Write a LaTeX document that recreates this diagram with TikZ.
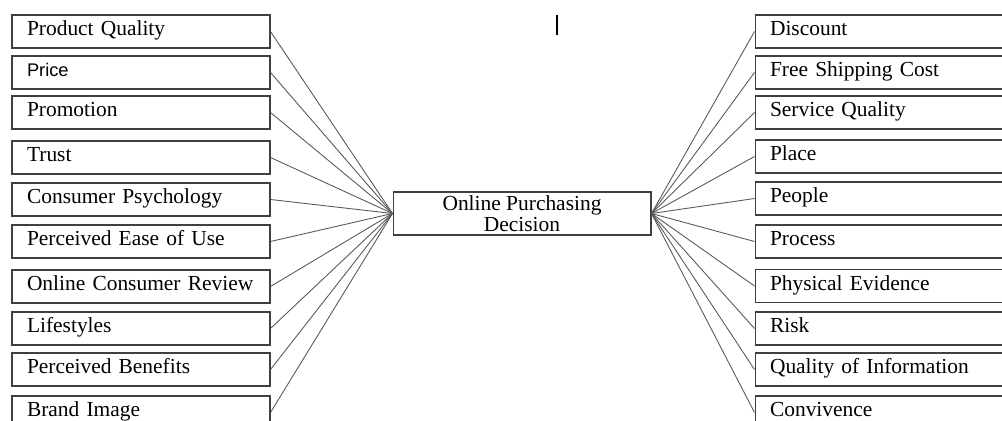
\documentclass[tikz,border=0pt]{standalone}
\usepackage{fontspec}
\setmainfont{Liberation Serif}
\newfontfamily\pricefont{Liberation Sans}
\usepackage{tikz}

\tikzset{
  factor/.style={draw=black!75, line width=0.6pt, minimum height=0.66cm,
    text width=4.56cm, text height=0.3cm, text depth=0.12cm,
    inner xsep=0.3cm, inner ysep=0pt, align=left,
    font=\fontsize{12.2}{14}\selectfont},
  decision/.style={draw=black!75, line width=0.6pt, minimum width=5.16cm,
    minimum height=0.86cm, inner sep=0pt, align=center,
    font=\fontsize{12.2}{10.2}\selectfont},
  link/.style={draw=black!65, line width=0.5pt}
}

\begin{document}
\begin{tikzpicture}[x=0.02cm, y=-0.02cm]
			%%%%% FRAME %%%%%
			\clip (0, 0) rectangle (1002, 421);
			\fill[white] (0, 0) rectangle (1002, 421);
			
			%%%%% CENTRE %%%%%
			\node[decision] (hub) at (522, 213.5) {Online Purchasing\\Decision};
			
			%%%%% LEFT FACTORS %%%%%
			\node[factor] (quality) at (141, 31.5) {Product Quality};
			\node[factor] (price) at (141, 72.5) {\pricefont\fontsize{10.4}{12}\selectfont Price};
			\node[factor] (promo) at (141, 112.5) {Promotion};
			\node[factor] (trust) at (141, 157.5) {Trust};
			\node[factor] (psych) at (141, 199.5) {Consumer Psychology};
			\node[factor] (ease) at (141, 241.5) {Perceived Ease of Use};
			\node[factor] (review) at (141, 286.5) {Online Consumer Review};
			\node[factor] (life) at (141, 328.5) {Lifestyles};
			\node[factor] (benefit) at (141, 369.5) {Perceived Benefits};
			\node[factor] (brand) at (141, 412.5) {Brand Image};
			
			%%%%% RIGHT FACTORS %%%%%
			\node[factor] (discount) at (884, 31.5) {Discount};
			\node[factor] (shipping) at (884, 72.5) {Free Shipping Cost};
			\node[factor] (service) at (884, 112.5) {Service Quality};
			\node[factor] (place) at (884, 156.5) {Place};
			\node[factor] (people) at (884, 198.5) {People};
			\node[factor] (process) at (884, 241.5) {Process};
			\node[factor] (evidence) at (884, 286) {Physical Evidence};
			\node[factor] (risk) at (884, 328.5) {Risk};
			\node[factor] (info) at (884, 369.5) {Quality of Information};
			\node[factor] (conv) at (884, 412.5) {Convivence};
			
			%%%%% LINKS %%%%%
			\draw[link] (quality.east) -- (hub.west);
			\draw[link] (price.east) -- (hub.west);
			\draw[link] (promo.east) -- (hub.west);
			\draw[link] (trust.east) -- (hub.west);
			\draw[link] (psych.east) -- (hub.west);
			\draw[link] (ease.east) -- (hub.west);
			\draw[link] (review.east) -- (hub.west);
			\draw[link] (life.east) -- (hub.west);
			\draw[link] (benefit.east) -- (hub.west);
			\draw[link] (brand.east) -- (hub.west);
			
			\draw[link] (hub.east) -- (discount.west);
			\draw[link] (hub.east) -- (shipping.west);
			\draw[link] (hub.east) -- (service.west);
			\draw[link] (hub.east) -- (place.west);
			\draw[link] (hub.east) -- (people.west);
			\draw[link] (hub.east) -- (process.west);
			\draw[link] (hub.east) -- (evidence.west);
			\draw[link] (hub.east) -- (risk.west);
			\draw[link] (hub.east) -- (info.west);
			\draw[link] (hub.east) -- (conv.west);
			
			%%%%% CURSOR %%%%%
			\draw[line width=0.6pt] (557, 15) -- (557, 35);
		\end{tikzpicture}
\end{document}
